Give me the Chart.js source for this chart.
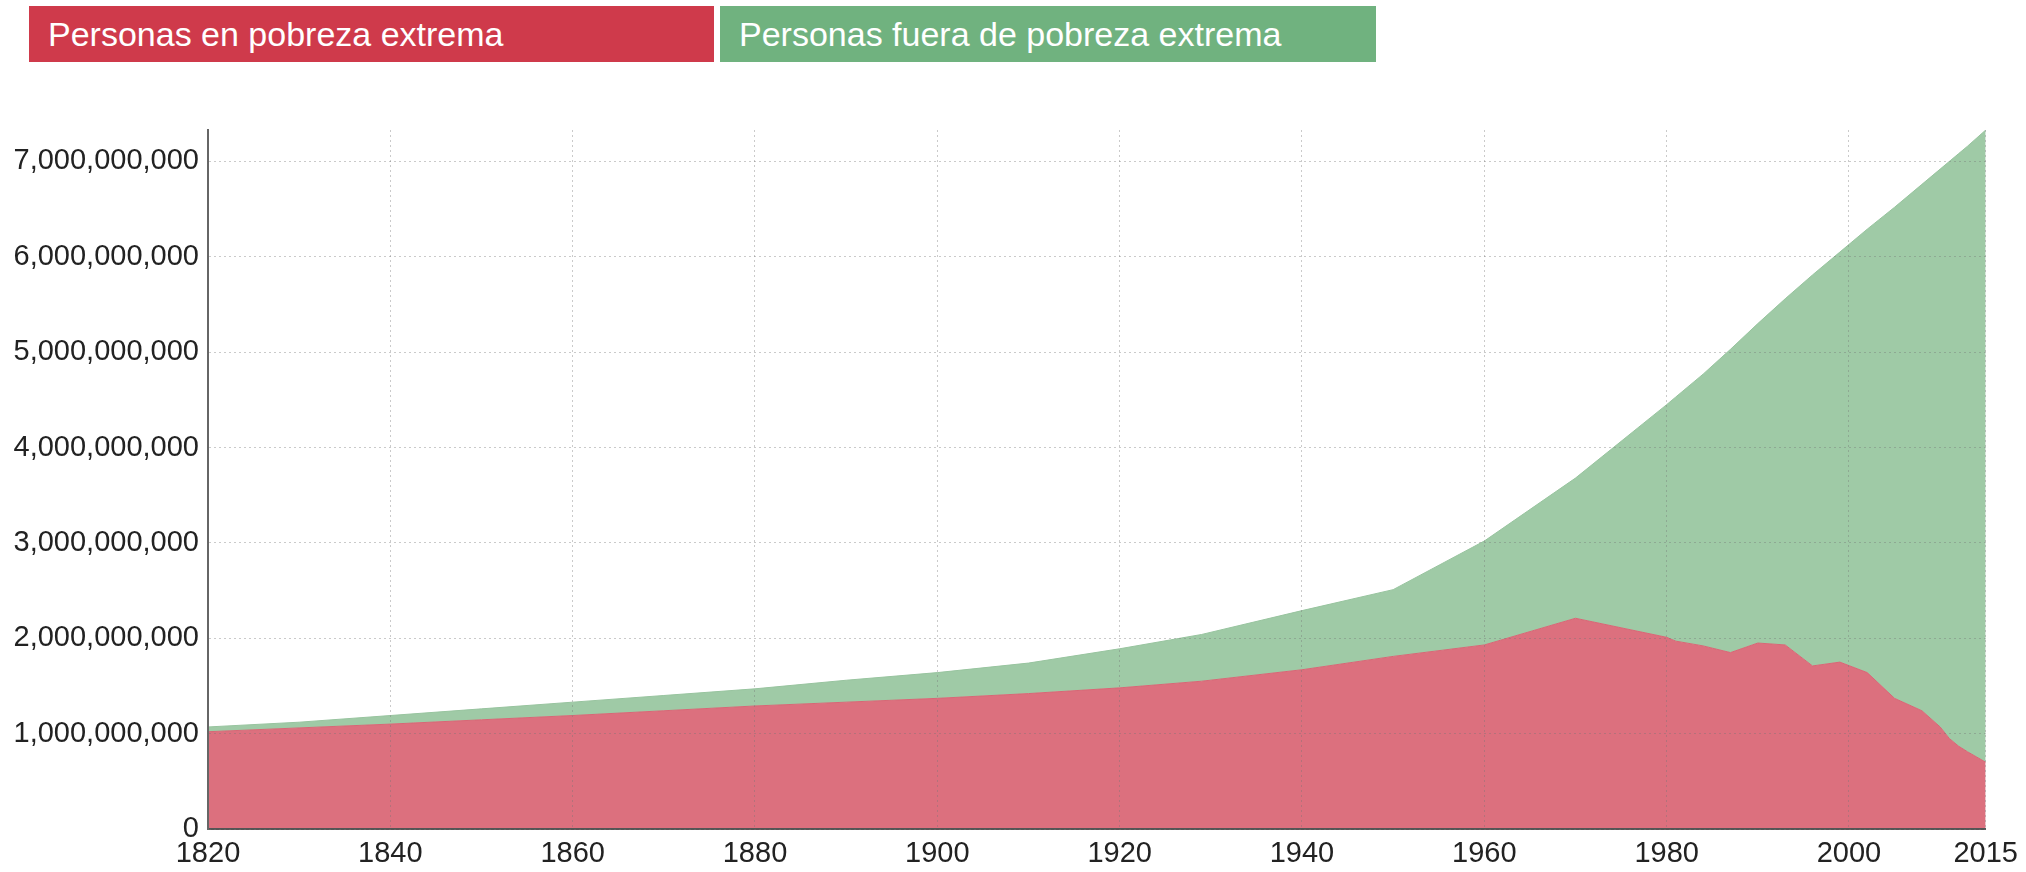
<!DOCTYPE html>
<html>
<head>
<meta charset="utf-8">
<script src="https://cdn.jsdelivr.net/npm/chart.js@4/dist/chart.umd.min.js"></script>
<style>
  html, body { margin: 0; padding: 0; background: #fff; }
  #wrap { position: relative; width: 2026px; height: 872px; overflow: hidden; }
  #chart { position: absolute; left: 0; top: 0; }
  .key {
    position: absolute; top: 6px; height: 56px;
    display: flex; align-items: center; box-sizing: border-box;
    padding-left: 19px; color: #fff;
    font: 34px "Liberation Sans", Arial, sans-serif;
  }
</style>
</head>
<body>
<div id="wrap">
  <canvas id="chart" width="2026" height="872"></canvas>
  <div class="key" style="left:29px; width:685px; background:#cf3a4b;">Personas en pobreza extrema</div>
  <div class="key" style="left:720px; width:656px; background:#70b27f;">Personas fuera de pobreza extrema</div>
</div>
<script>
// World population split by extreme poverty, 1820–2015
const years = [1820, 1830, 1840, 1850, 1860, 1870, 1880, 1890, 1900, 1910, 1920, 1929,
               1940, 1950, 1960, 1970, 1980, 1981, 1984, 1987, 1990, 1993, 1996, 1999,
               2002, 2005, 2008, 2010, 2011, 2012, 2013, 2015];

// People living in extreme poverty
const poverty = [1.02e9, 1.06e9, 1.10e9, 1.145e9, 1.19e9, 1.24e9, 1.29e9, 1.33e9, 1.37e9, 1.42e9, 1.48e9, 1.55e9,
                 1.67e9, 1.81e9, 1.93e9, 2.21e9, 2.01e9, 1.97e9, 1.92e9, 1.85e9, 1.95e9, 1.93e9, 1.71e9, 1.75e9,
                 1.64e9, 1.37e9, 1.24e9, 1.07e9, 0.95e9, 0.87e9, 0.81e9, 0.70e9];

// Total world population
const population = [1.07e9, 1.12e9, 1.19e9, 1.26e9, 1.33e9, 1.40e9, 1.47e9, 1.56e9, 1.64e9, 1.74e9, 1.89e9, 2.04e9,
                    2.29e9, 2.51e9, 3.02e9, 3.68e9, 4.45e9, 4.53e9, 4.77e9, 5.03e9, 5.30e9, 5.56e9, 5.81e9, 6.05e9,
                    6.29e9, 6.52e9, 6.76e9, 6.92e9, 7.00e9, 7.08e9, 7.16e9, 7.33e9];

const xTickValues = [1820, 1840, 1860, 1880, 1900, 1920, 1940, 1960, 1980, 2000, 2015];
const yTickValues = [0, 1e9, 2e9, 3e9, 4e9, 5e9, 6e9, 7e9];

const seriesLabels = ['Personas en pobreza extrema', 'Personas fuera de pobreza extrema'];

// people outside extreme poverty, stacked on top of those inside it
const outside = population.map((p, i) => p - poverty[i]);

const tickFont = { family: '"Liberation Sans", Arial, sans-serif', size: 29 };
const gridColor = 'rgba(115,115,115,0.38)';

const toPoints = (vals) => years.map((yr, i) => ({ x: yr, y: vals[i] }));

new Chart(document.getElementById('chart'), {
  type: 'line',
  data: {
    datasets: [
      {
        label: seriesLabels[0],
        data: toPoints(poverty),
        fill: 'origin',
        backgroundColor: 'rgb(220,112,126)',
        borderColor: 'rgb(214,104,118)',
        borderWidth: 1,
        pointRadius: 0,
        tension: 0
      },
      {
        label: seriesLabels[1],
        data: toPoints(outside),
        fill: '-1',
        backgroundColor: 'rgb(159,202,166)',
        borderColor: 'rgb(152,196,159)',
        borderWidth: 1,
        pointRadius: 0,
        tension: 0
      }
    ]
  },
  options: {
    responsive: false,
    animation: false,
    layout: { padding: { left: 12, right: 39, top: 130, bottom: 0 } },
    plugins: { legend: { display: false }, tooltip: { enabled: false } },
    scales: {
      x: {
        type: 'linear',
        min: 1820,
        max: 2015,
        afterBuildTicks: (scale) => { scale.ticks = xTickValues.map(v => ({ value: v })); },
        afterFit: (scale) => { scale.height = 43; },
        ticks: {
          callback: (v) => String(v),
          font: tickFont,
          color: '#222',
          padding: 8,
          maxRotation: 0,
          autoSkip: false
        },
        grid: { color: gridColor, lineWidth: 1, drawTicks: false, z: 1 },
        border: { display: true, color: '#555', width: 2, dash: [2, 3], z: 1 }
      },
      y: {
        stacked: true,
        min: 0,
        max: Math.max(...population),
        afterBuildTicks: (scale) => { scale.ticks = yTickValues.map(v => ({ value: v })); },
        afterFit: (scale) => { scale.width = 196; },
        ticks: {
          callback: (v) => Number(v).toLocaleString('en-US'),
          font: tickFont,
          color: '#222',
          padding: 9
        },
        grid: { color: gridColor, lineWidth: 1, drawTicks: false, z: 1 },
        border: { display: true, color: '#666', width: 2, dash: [2, 3], z: 1 }
      }
    }
  }
});
</script>
</body>
</html>
